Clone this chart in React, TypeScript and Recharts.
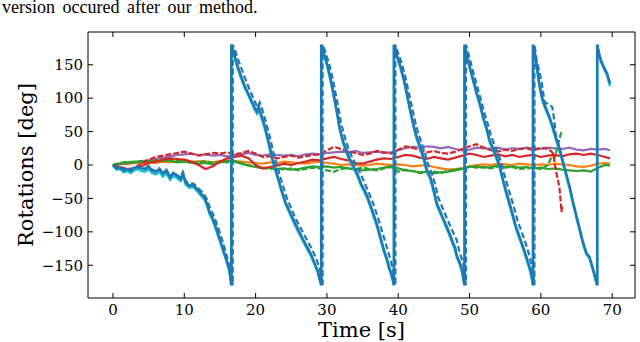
import { LineChart, Line, XAxis, YAxis } from 'recharts';

type Pt = [number, number];

// time grid (s) for the roll / pitch traces
const secs = [
  0, 1, 2, 3, 4, 5, 6, 7, 8, 9, 10, 11, 12, 13, 14, 15, 16, 17, 18, 19,
  20, 21, 22, 23, 24, 25, 26, 27, 28, 29, 30, 31, 32, 33, 34, 35, 36, 37, 38, 39,
  40, 41, 42, 43, 44, 45, 46, 47, 48, 49, 50, 51, 52, 53, 54, 55, 56, 57, 58, 59,
  60, 61, 62, 63, 64, 65, 66, 67, 68, 69, 69.7,
];

const purpleVals = [
  0, 1, 3, 4, 6, 7, 9, 11, 13, 15,
  16, 17, 15, 16, 14, 15, 13, 15, 16, 18,
  15, 14, 16, 15, 14, 15, 13, 16, 17, 16,
  18, 19, 20, 19, 21, 18, 19, 20, 18, 19,
  22, 25, 27, 26, 28, 27, 25, 27, 24, 22,
  23, 26, 25, 24, 26, 23, 25, 24, 26, 25,
  24, 26, 25, 24, 26, 23, 22, 24, 23, 24, 22,
];

const redVals = [
  0, -4, -8, -6, -2, 3, 5, 8, 10, 9,
  8, 5, 0, -6, -2, 5, 10, 12, 14, 10,
  0, -5, -3, -1, 2, 0, 3, 5, 8, 7,
  10, 12, 9, 7, 3, 2, 5, 8, 10, 9,
  12, 15, 14, 11, 9, 12, 10, 8, 11, 14,
  17, 15, 12, 14, 16, 13, 15, 12, 14, 15,
  12, 14, 15, 13, 16, 17, 15, 17, 15, 12, 10,
];

const orangeVals = [
  0, 2, 1, 3, 2, 4, 3, 5, 4, 6,
  5, 4, 6, 5, 4, 6, 7, 6, 5, 4,
  3, 2, 4, 3, 5, 4, 3, 2, 4, 5,
  3, 2, 0, 1, 0, -1, 0, 2, 1, 0,
  1, 0, -2, -1, 0, -3, -5, -7, -6, -5,
  -2, 0, 1, 0, 2, 1, 0, 2, 1, 0,
  1, 0, 2, 1, 0, -2, -3, -1, 2, 3, 2,
];

const greenVals = [
  0, 2, 4, 5, 4, 6, 5, 7, 6, 4,
  5, 3, 2, 3, 1, 4, 6, 5, 2, -1,
  -3, -5, -4, -6, -5, -7, -6, -4, -2, -3,
  -2, -4, -3, -5, -6, -8, -7, -6, -4, -2,
  -5, -8, -9, -11, -10, -12, -11, -10, -8, -6,
  -3, -2, -4, -3, -1, -3, -2, -4, -3, -5,
  -4, -6, -5, -7, -8, -9, -8, -10, -4, 0, -1,
];

// dashed estimator, stops at ~63 s
const redDashVals = [
  0, -3, -6, -5, 2, 8, 12, 14, 16, 18,
  20, 17, 14, 16, 18, 17, 19, 16, 18, 21,
  17, 12, 13, 10, 12, 14, 11, 13, 15, 16,
  22, 27, 24, 20, 18, 15, 17, 21, 19, 17,
  23, 28, 26, 22, 19, 21, 18, 17, 20, 24,
  28, 31, 26, 22, 20, 23, 21, 24, 25, 22,
  26, 24,
];
const redDashTail: Pt[] = [[61.7, 18], [62.1, -8], [62.6, -33], [62.9, -70], [63, -62]];

const greenDashVals = [
  0, 3, 5, 4, 6, 5, 7, 8, 9, 6,
  7, 5, 4, 6, 3, 5, 4, 6, 3, 0,
  -2, -4, -6, -5, -7, -5, -8, -6, -4, -5,
  -8, -10, -6, -5, -7, -4, -6, -8, -5, -3,
  -10, -7, -9, -12, -11, -10, -12, -9, -7, -5,
  -2, -4, -3, -5, -2, -4, -3, -6, -5, -4,
  -6, 0,
];
const greenDashTail: Pt[] = [[61.6, 15], [62, 12], [62.4, 30], [62.8, 47], [63, 52]];

// yaw, wrapped to +-180
const yawBlue: Pt[] = [
  [0, 0], [0.5, -5], [1, -4], [1.5, -8], [2, -6], [2.5, -9], [3, -4], [3.5, -3], [4, -5], [4.5, -6],
  [5, -2], [5.5, -8], [6, -10], [6.5, -6], [7, -13], [7.5, -8], [8, -18], [8.5, -12], [9, -16], [9.5, -21],
  [9.8, -12], [10.2, -26], [10.7, -31], [11.3, -30], [11.8, -36], [12.3, -42], [12.8, -48], [13.2, -58],
  [13.6, -72], [14, -80], [14.5, -95], [15, -112], [15.4, -125], [15.8, -138], [16.2, -152], [16.4, -162], [16.6, -180],
  [16.6, 180], [16.9, 170], [17.4, 150], [17.9, 135], [18.5, 118], [19, 106], [19.5, 95], [19.9, 85], [20.2, 80],
  [20.4, 88], [20.7, 78], [21.2, 62], [21.8, 36], [22.4, 8], [23, -14], [23.6, -36], [24.2, -56], [24.8, -70],
  [25.4, -84], [26, -97], [26.6, -110], [27.2, -122], [27.8, -134], [28.2, -145], [28.7, -158], [29.2, -180],
  [29.2, 180], [29.5, 170], [30.1, 148], [30.6, 125], [31, 103], [31.4, 80], [31.8, 55], [32.3, 35], [32.9, 17],
  [33.4, 5], [33.8, -3], [34.3, -14], [34.8, -28], [35.3, -38], [35.7, -48], [36.3, -66], [37, -88], [37.5, -108],
  [38, -127], [38.4, -140], [38.7, -152], [39.1, -165], [39.4, -180],
  [39.4, 180], [39.7, 168], [40.3, 148], [40.8, 128], [41.2, 108], [41.7, 82], [42.2, 58], [42.6, 42], [43.1, 27],
  [43.6, 10], [44, -7], [44.5, -18], [45, -38], [45.4, -57], [46, -72], [46.8, -92], [47.3, -105], [47.7, -117],
  [48, -124], [48.2, -135], [48.6, -145], [48.9, -155], [49.3, -180],
  [49.3, 180], [49.6, 165], [50, 148], [50.5, 128], [51, 108], [51.5, 90], [51.9, 72], [52.4, 55], [52.8, 38],
  [53.3, 25], [53.8, 12], [54.2, 0], [54.7, -22], [55.1, -38], [55.6, -57], [56, -72], [56.5, -92], [57.1, -110],
  [57.7, -128], [58.1, -142], [58.4, -152], [58.7, -165], [58.9, -180],
  [58.9, 180], [59.2, 165], [59.8, 120], [60.2, 100], [60.6, 88], [61.1, 75], [61.6, 60], [62, 45], [62.3, 35],
  [62.7, 22], [63.1, 5], [63.6, -15], [64.1, -35], [64.5, -55], [65.2, -85], [65.9, -115], [66.4, -132],
  [66.8, -137], [67.3, -155], [67.9, -180],
  [67.9, 180], [68.1, 170], [68.4, 157], [68.9, 145], [69.3, 137], [69.7, 122],
];

const yawCyan: Pt[] = [
  [0, 0], [0.5, -7], [1, -6], [1.5, -11], [2, -9], [2.5, -12], [3, -8], [3.5, -6], [4, -9], [4.5, -10],
  [5, -6], [5.5, -12], [6, -14], [6.5, -10], [7, -17], [7.5, -12], [8, -22], [8.5, -16], [9, -20], [9.5, -24],
  [9.8, -16], [10.2, -29], [10.7, -34], [11.3, -33], [11.8, -39], [12.3, -45], [12.8, -51], [13.2, -61],
  [13.6, -75], [14, -83], [14.5, -98], [15, -114], [15.4, -127], [15.8, -140], [16.2, -154], [16.4, -164], [16.6, -180],
  [16.6, 180], [16.9, 168], [17.4, 148], [17.9, 132], [18.5, 115], [19, 104], [19.5, 92], [19.9, 82], [20.2, 77],
  [20.4, 84], [20.7, 75], [21.2, 58], [21.8, 33], [22.4, 5], [23, -16], [23.6, -38], [24.2, -58], [24.8, -73],
  [25.4, -87], [26, -100], [26.6, -113], [27.2, -125], [27.8, -137], [28.2, -147], [28.7, -160], [29.2, -180],
  [29.2, 180], [29.5, 168], [30.1, 146], [30.6, 122], [31, 100], [31.4, 78], [31.8, 53], [32.3, 32], [32.9, 14],
  [33.4, 2], [33.8, -6], [34.3, -17], [34.8, -31], [35.3, -41], [35.7, -51], [36.3, -69], [37, -91], [37.5, -111],
  [38, -130], [38.4, -142], [38.7, -154], [39.1, -167], [39.4, -180],
  [39.4, 180], [39.7, 166], [40.3, 146], [40.8, 126], [41.2, 105], [41.7, 79], [42.2, 55], [42.6, 39], [43.1, 24],
  [43.6, 7], [44, -10], [44.5, -21], [45, -41], [45.4, -60], [46, -75], [46.8, -95], [47.3, -108], [47.7, -120],
  [48, -128], [48.2, -138], [48.6, -148], [48.9, -158], [49.3, -180],
  [49.3, 180], [49.6, 163], [50, 146], [50.5, 126], [51, 106], [51.5, 88], [51.9, 70], [52.4, 52], [52.8, 35],
  [53.3, 22], [53.8, 9], [54.2, -3], [54.7, -25], [55.1, -41], [55.6, -60], [56, -75], [56.5, -95], [57.1, -113],
  [57.7, -131], [58.1, -145], [58.4, -155], [58.7, -167], [58.9, -180],
  [58.9, 180], [59.2, 163], [59.8, 118], [60.2, 97], [60.6, 85], [61.1, 72], [61.6, 57], [62, 42], [62.3, 32],
  [62.7, 19], [63.1, 2], [63.6, -18], [64.1, -38], [64.5, -58], [65.2, -88], [65.9, -118], [66.4, -134],
  [66.8, -139], [67.3, -157], [67.9, -180],
  [67.9, 180], [68.1, 168], [68.4, 155], [68.9, 143], [69.3, 134], [69.7, 118],
];

const yawDash: Pt[] = [
  [0, 0], [0.5, -4], [1, -3], [1.5, -7], [2, -5], [2.5, -8], [3, -3], [3.5, -2], [4, -4], [4.5, -5],
  [5, -1], [5.5, -7], [6, -9], [6.5, -5], [7, -12], [7.5, -7], [8, -17], [8.5, -11], [9, -15], [9.5, -19],
  [9.8, -11], [10.2, -24], [10.7, -28], [11.3, -28], [11.8, -33], [12.3, -38], [12.8, -44], [13.2, -52],
  [13.6, -64], [14, -73], [14.5, -86], [15, -102], [15.4, -115], [15.8, -130], [16.2, -145], [16.5, -160], [16.8, -180],
  [16.8, 180], [17.1, 172], [17.6, 156], [18.1, 142], [18.7, 125], [19.2, 112], [19.7, 100], [20.1, 90], [20.4, 86],
  [20.6, 93], [20.9, 84], [21.4, 66], [22, 42], [22.6, 14], [23.2, -8], [23.8, -30], [24.4, -50], [25, -65],
  [25.6, -80], [26.2, -92], [26.8, -104], [27.4, -116], [28, -128], [28.5, -140], [29, -155], [29.4, -180],
  [29.4, 180], [29.7, 172], [30.3, 152], [30.8, 130], [31.2, 108], [31.6, 86], [32, 62], [32.5, 42], [33.1, 22],
  [33.6, 10], [34, 2], [34.5, -8], [35, -20], [35.5, -32], [35.9, -42], [36.5, -58], [37.2, -80], [37.7, -98],
  [38.2, -116], [38.6, -130], [39, -145], [39.3, -160], [39.6, -180],
  [39.6, 180], [39.9, 170], [40.5, 152], [41, 132], [41.4, 112], [41.9, 88], [42.4, 64], [42.8, 48], [43.3, 32],
  [43.8, 16], [44.2, 0], [44.7, -12], [45.2, -30], [45.6, -48], [46.2, -64], [47, -84], [47.5, -96], [47.9, -106],
  [48.2, -112], [48.5, -126], [48.9, -140], [49.2, -152], [49.5, -180],
  [49.5, 180], [49.8, 168], [50.2, 152], [50.7, 132], [51.2, 112], [51.7, 94], [52.1, 77], [52.6, 60], [53, 44],
  [53.5, 30], [54, 17], [54.4, 5], [54.9, -15], [55.3, -30], [55.8, -48], [56.2, -62], [56.7, -82], [57.3, -100],
  [57.9, -118], [58.3, -132], [58.6, -145], [58.9, -160], [59.1, -180],
  [59.1, 180], [59.4, 158], [60.1, 125], [60.5, 95], [61.1, 90], [61.6, 87], [61.9, 65], [62.1, 45], [62.5, 28], [62.8, 18],
];

const xTicks = [0, 10, 20, 30, 40, 50, 60, 70];
const yTicks = [-150, -100, -50, 0, 50, 100, 150];

const fromGrid = (vals: number[], tail: Pt[] = []) => [
  ...vals.map((v, i) => ({ t: secs[i], v })),
  ...tail.map(([t, v]) => ({ t, v })),
];
const fromPairs = (pts: Pt[]) => pts.map(([t, v]) => ({ t, v }));

const serif = 'DejaVu Serif';
const tickStyle = { fill: '#000', fontSize: 15, fontFamily: serif };
const minus = (v: number) => (v < 0 ? '\u2212' + Math.abs(v) : String(v));
const blank = () => '';

export default function App() {
  return (
    <div style={{ position: 'relative', width: 640, height: 342 }}>
      <style>{'body{margin:0}'}</style>
      <LineChart width={640} height={342} margin={{ top: 31, right: 4, bottom: 0, left: 0 }}>
        <XAxis
          dataKey="t"
          type="number"
          domain={[-3.5, 73.2]}
          allowDataOverflow
          ticks={xTicks}
          height={44}
          tickSize={-5}
          tickMargin={11}
          stroke="#000"
          tick={tickStyle}
          label={{ value: 'Time [s]', position: 'insideBottom', offset: 5, style: { fontFamily: serif, fontSize: 21, fill: '#000' } }}
        />
        <XAxis
          xAxisId="top"
          orientation="top"
          dataKey="t"
          type="number"
          domain={[-3.5, 73.2]}
          allowDataOverflow
          ticks={xTicks}
          height={1}
          tickSize={-5}
          stroke="#000"
          tickFormatter={blank}
        />
        <YAxis
          type="number"
          domain={[-199, 199]}
          allowDataOverflow
          ticks={yTicks}
          width={88}
          tickSize={-5}
          tickMargin={10}
          stroke="#000"
          tick={tickStyle}
          tickFormatter={minus}
        />
        <YAxis
          yAxisId="right"
          orientation="right"
          type="number"
          domain={[-199, 199]}
          allowDataOverflow
          ticks={yTicks}
          width={1}
          tickSize={-5}
          stroke="#000"
          tickFormatter={blank}
        />
        <Line data={fromGrid(orangeVals)} dataKey="v" stroke="#ff7f0e" strokeWidth={2.2} dot={false} activeDot={false} isAnimationActive={false} />
        <Line data={fromGrid(purpleVals)} dataKey="v" stroke="#9467bd" strokeWidth={2.2} dot={false} activeDot={false} isAnimationActive={false} />
        <Line data={fromGrid(greenDashVals, greenDashTail)} dataKey="v" stroke="#2ca02c" strokeWidth={2.2} strokeDasharray="6 2" dot={false} activeDot={false} isAnimationActive={false} />
        <Line data={fromGrid(greenVals)} dataKey="v" stroke="#2ca02c" strokeWidth={2.2} dot={false} activeDot={false} isAnimationActive={false} />
        <Line data={fromGrid(redDashVals, redDashTail)} dataKey="v" stroke="#d62728" strokeWidth={2.2} strokeDasharray="6 2" dot={false} activeDot={false} isAnimationActive={false} />
        <Line data={fromGrid(redVals)} dataKey="v" stroke="#d62728" strokeWidth={2.2} dot={false} activeDot={false} isAnimationActive={false} />
        <Line data={fromPairs(yawCyan)} dataKey="v" stroke="#17becf" strokeWidth={2.5} dot={false} activeDot={false} isAnimationActive={false} />
        <Line data={fromPairs(yawBlue)} dataKey="v" stroke="#1f77b4" strokeWidth={2.5} dot={false} activeDot={false} isAnimationActive={false} />
        <Line data={fromPairs(yawDash)} dataKey="v" stroke="#1f77b4" strokeWidth={2.2} strokeDasharray="6 3" dot={false} activeDot={false} isAnimationActive={false} />
      </LineChart>
      <svg width={640} height={342} style={{ position: 'absolute', left: 0, top: 0, pointerEvents: 'none' }}>
        <text x={2} y={13} fontFamily="Liberation Serif" fontSize={18} wordSpacing={3} fill="#000">
          version occured after our method.
        </text>
        <text x={33} y={165} transform="rotate(-90 33 165)" textAnchor="middle" fontFamily={serif} fontSize={21} fill="#000">
          Rotations [deg]
        </text>
      </svg>
    </div>
  );
}
